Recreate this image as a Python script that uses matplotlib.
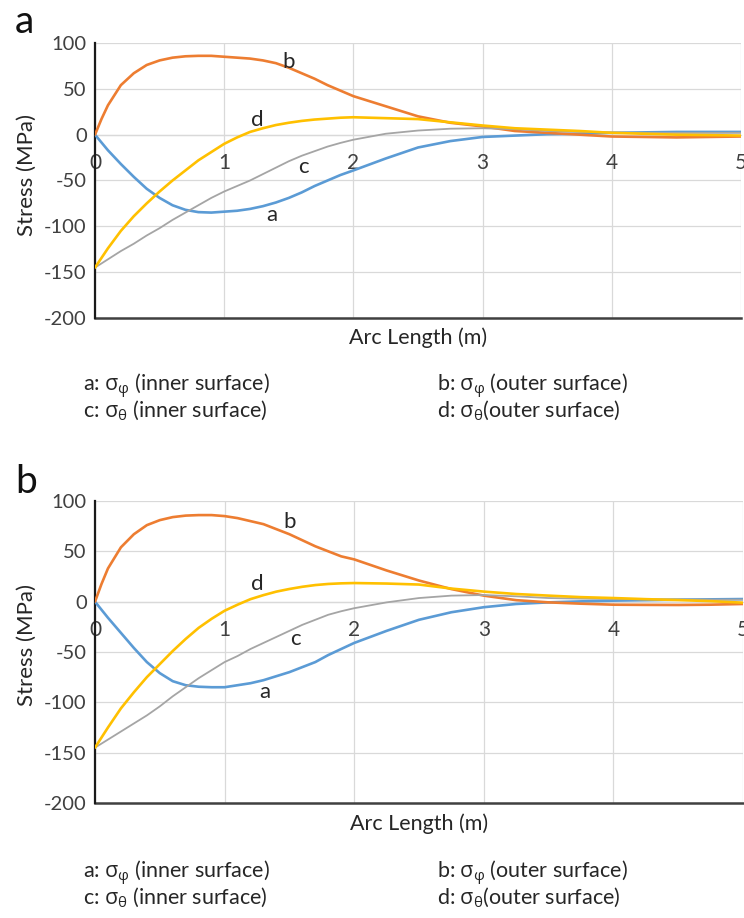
import matplotlib
matplotlib.use("Agg")
import matplotlib.pyplot as plt

plt.rcParams['font.family'] = ['Lato', 'DejaVu Sans']
plt.rcParams['mathtext.fontset'] = 'custom'
plt.rcParams['mathtext.rm'] = 'Open Sans'
plt.rcParams['mathtext.it'] = 'Open Sans'
plt.rcParams['mathtext.bf'] = 'Open Sans:bold'
plt.rcParams['axes.unicode_minus'] = False

# arc length (m)
x = [0.0, 0.05, 0.1, 0.2, 0.3, 0.4, 0.5, 0.6, 0.7, 0.8, 0.9, 1.0,
     1.1, 1.2, 1.3, 1.4, 1.5, 1.6, 1.7, 1.8, 1.9, 2.0,
     2.25, 2.5, 2.75, 3.0, 3.25, 3.5, 3.75, 4.0, 4.25, 4.5, 4.75, 5.0]

# panel a stresses (MPa)
a_sphi_in = [0, -8.5, -17, -32, -46, -59, -69, -77, -82, -84.5, -85, -84,
             -83, -81, -78, -74, -69, -63, -56, -50, -44, -39,
             -26, -14, -7, -2.5, -1, 0.5, 1, 2, 2.5, 3, 3, 3]
a_sphi_out = [0, 17, 32, 54, 67, 76, 81, 84, 85.5, 86, 86, 85,
              84, 83, 81, 78, 73, 67, 61, 54, 48, 42,
              31, 20, 13, 9, 4, 2, 0, -2, -2.5, -3, -2.5, -2]
a_sth_in = [-145, -140.5, -136, -127, -119, -110, -102, -93, -85, -77, -69, -62,
            -56, -50, -43, -36, -29, -23, -18, -13, -9, -5.5,
            1, 4.5, 6.5, 7, 6, 4, 3, 2.5, 2, 2, 2, 2]
a_sth_out = [-145, -134.5, -124, -105, -89, -75, -62, -50, -39, -28, -19, -10,
             -3, 3, 7, 10.5, 13, 15, 16.5, 17.5, 18.5, 19,
             18, 17, 13.5, 10, 7, 5.5, 4, 2, 1, 0, -0.5, -1]

# panel b stresses (MPa)
b_sphi_in = [0, -8, -16, -31, -46, -60, -71, -79, -83, -84.5, -85, -85,
             -83, -81, -78, -74, -70, -65, -60, -53, -47, -41,
             -29, -18, -10.5, -5.5, -2.3, -0.7, 0.3, 1, 1.5, 2, 2.3, 2.6]
b_sphi_out = [0, 17.5, 33, 54, 67, 76, 81, 84, 85.5, 86, 86, 85,
              83, 80, 77, 72, 67, 61, 55, 50, 45, 42,
              31, 21, 12.5, 6, 1.5, -0.7, -2, -3, -3.2, -3.3, -3, -2.3]
b_sth_in = [-145, -141, -137, -129, -121, -113, -104, -94, -85, -76, -68, -60,
            -54, -47, -41, -35, -29, -23, -18, -13, -9.5, -6.5,
            -0.7, 3.6, 6, 6.6, 5.3, 3.6, 3, 2.6, 2.3, 2.2, 2, 2]
b_sth_out = [-145, -135, -125, -106, -90, -75, -62, -49, -37, -26, -17, -9,
             -3, 2.5, 6.5, 10, 12.6, 14.8, 16.5, 17.6, 18.2, 18.5,
             18, 17, 13, 10, 7.6, 6, 4.5, 3.6, 2.5, 1.6, 0.5, -1]

curve_tags = ['a', 'b', 'c', 'd']
colors = ['#5B9BD5', '#ED7D31', '#A5A5A5', '#FFC000']
widths = [1.9, 1.9, 1.3, 1.9]

# where the a/b/c/d tags sit on each panel (x, stress)
tags_a = [(1.37, -88), (1.5, 79), (1.615, -35), (1.256, 16.5)]
tags_b = [(1.31, -90), (1.5, 79), (1.55, -37), (1.256, 17.5)]

legend_rows = [
    ('a: $\\sigma_\\varphi$ (inner surface)', 'b: $\\sigma_\\varphi$ (outer surface)'),
    ('c: $\\sigma_\\theta$ (inner surface)', 'd: $\\sigma_\\theta$(outer surface)'),
]

W, H = 744, 918
fig = plt.figure(figsize=(W / 100, H / 100), dpi=100)


def draw_panel(rect, series, tags, letter, letter_y, ylab_y, leg_y):
    ax = fig.add_axes(rect)
    for ys, c, lw in zip(series, colors, widths):
        ax.plot(x, ys, color=c, lw=lw, solid_capstyle='round',
                solid_joinstyle='round', zorder=3)
    for t, (tx, ty) in zip(curve_tags, tags):
        ax.text(tx, ty, t, fontsize=16, ha='center', va='center', color='#262626', zorder=4)

    ax.set_xlim(0, 5)
    ax.set_ylim(-200, 100)
    ax.set_yticks([100, 50, 0, -50, -100, -150, -200])
    ax.set_xticks([0, 1, 2, 3, 4, 5])
    ax.grid(True, color='#D9D9D9', lw=0.9, zorder=0)
    ax.set_axisbelow(True)

    for s in ['top', 'right']:
        ax.spines[s].set_visible(False)
    ax.spines['left'].set_color('#1a1a1a')
    ax.spines['left'].set_linewidth(1.6)
    ax.spines['bottom'].set_position(('data', 0))
    ax.spines['bottom'].set_color('#D9D9D9')
    ax.spines['bottom'].set_linewidth(0.9)
    ax.axhline(-200, color='#404040', lw=1.8, zorder=2, clip_on=False)

    ax.tick_params(axis='x', length=0, pad=13, labelsize=15, colors='#404040')
    ax.tick_params(axis='y', length=0, pad=6, labelsize=14.5, colors='#404040')
    for lab in ax.get_xticklabels():
        lab.set_clip_on(False)

    ax.text(0.5, -0.07, 'Arc Length (m)', transform=ax.transAxes,
            ha='center', va='center', fontsize=15.5, color='#262626')
    fig.text(27 / W, 1 - ylab_y / H, 'Stress (MPa)', rotation=90,
             ha='center', va='center', fontsize=16, color='#262626')
    fig.text(15 / W, 1 - letter_y / H, letter, fontsize=28, ha='left',
             va='baseline', color='#111111')

    for i, (left, right) in enumerate(legend_rows):
        yb = 1 - (leg_y + i * 26) / H
        fig.text(83 / W, yb, left, fontsize=15.5, ha='left', va='baseline', color='#262626')
        fig.text(437 / W, yb, right, fontsize=15.5, ha='left', va='baseline', color='#262626')
    return ax


draw_panel([95 / W, 1 - 318 / H, 646 / W, 275 / H],
           [a_sphi_in, a_sphi_out, a_sth_in, a_sth_out], tags_a,
           'a', 33, 175, 391)
draw_panel([95 / W, 1 - 803 / H, 648 / W, 302 / H],
           [b_sphi_in, b_sphi_out, b_sth_in, b_sth_out], tags_b,
           'b', 493, 645, 878)

fig.savefig('out.png', dpi=100, facecolor='white')
